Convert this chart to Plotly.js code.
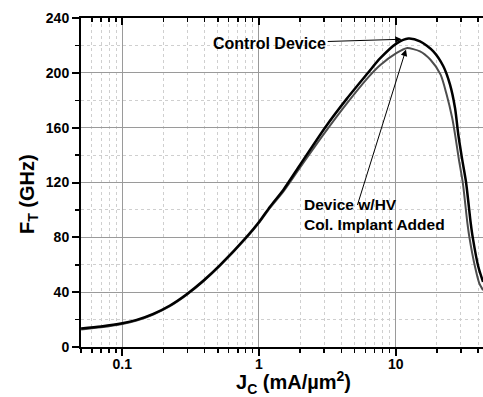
<!DOCTYPE html>
<html>
<head>
<meta charset="utf-8">
<script src="https://cdn.plot.ly/plotly-3.0.1.min.js"></script>
<style>
html,body{margin:0;padding:0;background:#fff;}
#chart{width:483px;height:397px;}
</style>
</head>
<body>
<div id="chart"></div>
<script>
// Control device (black curve): Jc (mA/um^2) and fT (GHz)
const ctrlJ = [0.05, 0.07, 0.1, 0.1274, 0.1686, 0.2233, 0.2958, 0.3913, 0.5184, 0.8128, 1.0, 1.204, 1.506, 2.0, 3.04, 4.38, 6.27, 7.68, 10.17, 12.37, 15.06, 18.84, 22.3, 24.96, 27.16, 28.71, 30.56, 32.69, 35.39, 36.59, 40.21, 43.53];
const ctrlF = [13.5, 15, 17.3, 19.8, 24.2, 30.3, 38.5, 48.3, 59.7, 80.4, 91.2, 102.4, 114.6, 133, 160, 181, 200, 210.5, 221.5, 225, 223, 215.7, 204.8, 191.4, 174.3, 154.8, 137.4, 120.2, 90.2, 80, 58.5, 47.5];
// Device w/HV Col. Implant Added (gray curve)
const hvJ = [0.05, 0.07, 0.1, 0.1274, 0.1686, 0.2233, 0.2958, 0.3913, 0.5184, 0.8128, 1.0, 1.204, 1.506, 2.0, 3.04, 4.38, 6.27, 7.68, 10.17, 12.0, 15.06, 17.9, 21.3, 23.6, 25.9, 27.2, 28.91, 30.92, 33.46, 34.6, 38.03, 40.89, 43.53];
const hvF = [12.8, 14.4, 16.8, 19.3, 23.7, 29.8, 38, 47.8, 59.2, 79.8, 90.5, 101.5, 113.3, 131, 156.5, 177.5, 196.5, 205.5, 214.5, 218, 215.7, 209.7, 198.7, 184, 167, 154.8, 137.4, 120.2, 90.2, 80, 58.5, 46.4, 41.5];

const xTickVals = [0.1, 1, 10];
const xTickText = ['0.1', '1', '10'];
const yTickVals = [0, 40, 80, 120, 160, 200, 240];

const FONT = 'Liberation Sans, Arial, Helvetica, sans-serif';
const xRange = [Math.log10(0.0499), Math.log10(43.5)];

const traces = [
  {x: hvJ, y: hvF, type: 'scatter', mode: 'lines', xaxis: 'x', yaxis: 'y',
   line: {color: '#4d4d4d', width: 2, shape: 'spline', smoothing: 0.7}, hoverinfo: 'skip'},
  {x: ctrlJ, y: ctrlF, type: 'scatter', mode: 'lines', xaxis: 'x2', yaxis: 'y',
   line: {color: '#000000', width: 2.5, shape: 'spline', smoothing: 0.7}, hoverinfo: 'skip'}
];

const layout = {
  width: 483, height: 397,
  margin: {l: 81, r: 0, t: 18, b: 50},
  paper_bgcolor: '#fff', plot_bgcolor: '#fff',
  showlegend: false,
  font: {family: FONT, color: '#000'},
  xaxis: {
    type: 'log', range: xRange, tickmode: 'array', tickvals: xTickVals, ticktext: xTickText,
    ticks: 'outside', ticklen: 7, tickwidth: 2, tickcolor: '#000', ticklabelstandoff: -4,
    showline: true, linewidth: 2, linecolor: '#000',
    showgrid: true, gridcolor: '#9a9a9a', gridwidth: 1,
    zeroline: false,
    tickfont: {family: FONT, size: 14, color: '#000', weight: 'bold'},
    minor: {ticks: 'outside', ticklen: 4, tickwidth: 1.5, tickcolor: '#000',
      showgrid: true, gridcolor: '#cfcfcf', griddash: 'dot', gridwidth: 1, dtick: 'D1'}
  },
  xaxis2: {
    type: 'log', range: xRange, overlaying: 'x', side: 'top', anchor: 'y',
    tickmode: 'array', tickvals: xTickVals,
    ticks: 'inside', ticklen: 7, tickwidth: 2, tickcolor: '#000',
    showline: true, linewidth: 2, linecolor: '#000',
    showgrid: false, showticklabels: false, zeroline: false,
    minor: {ticks: 'inside', ticklen: 4, tickwidth: 1.5, tickcolor: '#000', showgrid: false, dtick: 'D1'}
  },
  yaxis: {
    range: [0, 240], tickmode: 'array', tickvals: yTickVals,
    ticks: 'outside', ticklen: 7, tickwidth: 2, tickcolor: '#000',
    showline: true, linewidth: 2, linecolor: '#000',
    showgrid: true, gridcolor: '#9a9a9a', gridwidth: 1,
    zeroline: false,
    tickfont: {family: FONT, size: 14, color: '#000', weight: 'bold'},
    minor: {dtick: 20, ticks: 'outside', ticklen: 4, tickwidth: 1.5, tickcolor: '#000',
      showgrid: true, gridcolor: '#cfcfcf', griddash: 'dot', gridwidth: 1}
  },
  annotations: [
    {text: '<b>Control Device</b>', xref: 'x', yref: 'y', x: 1.044, y: 224.5,
     ax: -132, ay: 4, showarrow: true, arrowhead: 2, arrowsize: 1.3, arrowwidth: 1, arrowcolor: '#000',
     font: {family: FONT, size: 16, color: '#000'}},
    {text: '', xref: 'x', yref: 'y', x: 1.075, y: 217,
     ax: -49, ay: 157, showarrow: true, arrowhead: 2, arrowsize: 1.3, arrowwidth: 1, arrowcolor: '#000'},
    {text: '<b>Device w/HV<br>Col. Implant Added</b>', xref: 'paper', yref: 'paper',
     x: (302 - 81) / 402, y: (347 - 214.5) / 329, xanchor: 'left', yanchor: 'middle', align: 'left',
     showarrow: false, font: {family: FONT, size: 15.5, color: '#000'}},
    {text: '<b>F<sub>T</sub> (GHz)</b>', xref: 'paper', yref: 'paper',
     x: (28 - 81) / 402, y: (347 - 194) / 329, xanchor: 'center', yanchor: 'middle', textangle: -90,
     showarrow: false, font: {family: FONT, size: 20, color: '#000'}},
    {text: '<b>J<sub>C</sub> (mA/µm<sup>2</sup>)</b>', xref: 'paper', yref: 'paper',
     x: (293 - 81) / 402, y: (347 - 383) / 329, xanchor: 'center', yanchor: 'middle',
     showarrow: false, font: {family: FONT, size: 20, color: '#000'}}
  ]
};

Plotly.newPlot('chart', traces, layout, {staticPlot: true, displayModeBar: false});
</script>
</body>
</html>
